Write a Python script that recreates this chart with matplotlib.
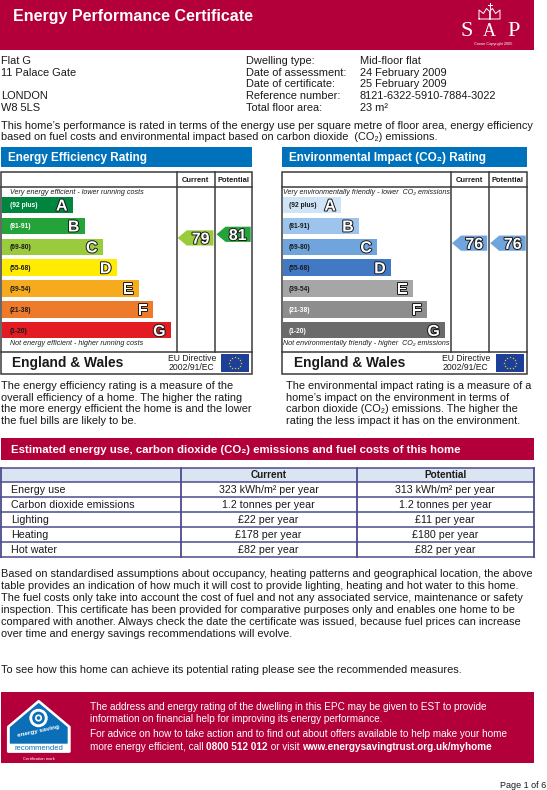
import numpy as np
import matplotlib.pyplot as plt
import matplotlib.patheffects as pe
from matplotlib.patches import Rectangle, Polygon, Circle

plt.rcParams['font.family'] = ['Liberation Sans', 'DejaVu Sans']

address_lines = ['Flat G', '11 Palace Gate', '', 'LONDON', 'W8 5LS']
detail_labels = ['Dwelling type:', 'Date of assessment:', 'Date of certificate:',
                 'Reference number:', 'Total floor area:']
detail_values = ['Mid-floor flat', '24 February 2009', '25 February 2009',
                 '8121-6322-5910-7884-3022', '23 m²']

band_letters = ['A', 'B', 'C', 'D', 'E', 'F', 'G']
band_labels = ['(92 plus)', '(81-91)', '(69-80)', '(55-68)', '(39-54)', '(21-38)', '(1-20)']
band_low = [92, 81, 69, 55, 39, 21, 1]
band_high = [100, 91, 80, 68, 54, 38, 20]

ee_current = 79
ee_potential = 81
ei_current = 76
ei_potential = 76

table_items = ['Energy use', 'Carbon dioxide emissions', 'Lighting', 'Heating', 'Hot water']
table_current = ['323 kWh/m² per year', '1.2 tonnes per year', '£22 per year',
                 '£178 per year', '£82 per year']
table_potential = ['313 kWh/m² per year', '1.2 tonnes per year', '£11 per year',
                   '£180 per year', '£82 per year']

# ---- styles ----
RED = '#b4003a'
BLUE = '#0072bb'
INK = '#1a1a1a'
ee_colors = ['#00853f', '#23a33a', '#9acb3c', '#ffec00', '#f6ab1f', '#ee7a2b', '#e31b23']
ee_label_colors = ['white', 'white', INK, INK, INK, INK, INK]
ei_colors = ['#cfe4f6', '#9cc4ec', '#6fa5dc', '#4279c4', '#a6a6a6', '#8d8d8d', '#6b6b6b']
ei_label_colors = [INK, INK, INK, INK, INK, 'white', 'white']
ee_bar_len = [71, 83, 101, 115, 137, 151, 169]
ei_bar_len = [58, 76, 94, 108, 130, 144, 162]

BODY = 7.9
TABLE = 7.7

fig = plt.figure(figsize=(5.47, 7.90), dpi=100)
ax = fig.add_axes([0, 0, 1, 1])
ax.set_autoscale_on(False)
ax.set_xlim(0, 547)
ax.set_ylim(790, 0)
ax.axis('off')
renderer = fig.canvas.get_renderer()


def ctext(x, yc, s, size, **kw):
    # place text so that capitals are centred on yc
    cap = 0.716 * size / 0.72
    return ax.text(x, yc + cap / 2, s, fontsize=size, va='baseline', **kw)


def run_text(x, y, parts, size, color):
    for s, weight in parts:
        t = ax.text(x, y, s, fontsize=size, fontweight=weight, color=color, va='baseline')
        x += t.get_window_extent(renderer).width


# ---- header ----
ax.add_patch(Rectangle((0, 0), 534, 50, color=RED, lw=0))
ax.text(13, 20.7, 'Energy Performance Certificate', fontsize=11.5, fontweight='bold',
        color='white', va='baseline')
# SAP mark
ax.text(467, 36.5, 'S', family='Liberation Serif', fontsize=16, color='white', ha='center', va='baseline')
ax.text(489, 36.5, 'A', family='Liberation Serif', fontsize=13, color='white', ha='center', va='baseline')
ax.text(514, 36.5, 'P', family='Liberation Serif', fontsize=16, color='white', ha='center', va='baseline')
ax.plot([479, 479, 483.5, 486.5, 489.5, 492.5, 495.5, 500, 500, 479],
        [19, 10, 13.5, 8.5, 11.5, 8.5, 13.5, 10, 19, 19], color='white', lw=0.7)
ax.plot([489.5, 489.5], [3, 9], color='white', lw=0.7)
ax.plot([487.5, 491.5], [5, 5], color='white', lw=0.7)
ax.plot([489.5, 489.5], [12, 19], color='white', lw=1.2)
ax.text(493, 45, 'Crown Copyright 2005', fontsize=2.8, color='white', ha='center', va='baseline')

# ---- address / details ----
for i, (a, l, v) in enumerate(zip(address_lines, detail_labels, detail_values)):
    y = 64 + i * 11.67
    ax.text(1, y, a, fontsize=BODY, color=INK, va='baseline')
    ax.text(246, y, l, fontsize=BODY, color=INK, va='baseline')
    ax.text(360, y, v, fontsize=BODY, color=INK, va='baseline')

intro = ['This home’s performance is rated in terms of the energy use per square metre of floor area, energy efficiency',
         'based on fuel costs and environmental impact based on carbon dioxide  (CO₂) emissions.']
for i, line in enumerate(intro):
    ax.text(1, 129.3 + i * 11, line, fontsize=BODY, color=INK, va='baseline')

# ---- rating charts ----
TOP, BOX_TOP, HEAD_BOT, FOOT_TOP, BOX_BOT = 146.7, 171.7, 187.3, 351.7, 374.0
BAR_TOP, PITCH, BAR_H = 196.7, 20.9, 16.3
bar_centers = BAR_TOP + BAR_H / 2 + PITCH * np.arange(len(band_letters))


def band_index(value):
    for i, (lo, hi) in enumerate(zip(band_low, band_high)):
        if lo <= value <= hi:
            return i
    return len(band_low) - 1


def rating_y(value):
    i = band_index(value)
    frac = (value - band_low[i] + 1) / (band_high[i] - band_low[i] + 1)
    return bar_centers[i] - (frac - 0.5) * PITCH


def arrow(xl, xr, value, colors):
    yc = rating_y(value)
    h = 7.6
    ax.add_patch(Polygon([(xl, yc), (xl + 9, yc - h), (xr, yc - h), (xr, yc + h), (xl + 9, yc + h)],
                         closed=True, color=colors[band_index(value)], lw=0))
    ctext(xr - 4, yc, str(value), 11.5, ha='right', color='white', fontweight='bold',
          path_effects=[pe.withStroke(linewidth=1.4, foreground=INK)])


def eu_flag(x, y, w, h):
    ax.add_patch(Rectangle((x, y), w, h, color='#1d3f9a', lw=0))
    ang = np.linspace(0, 2 * np.pi, 12, endpoint=False)
    ax.scatter(x + w / 2 + 5.6 * np.cos(ang), y + h / 2 + 5.6 * np.sin(ang),
               marker='*', s=2.5, color='#ffe000', lw=0, zorder=3)


def rating_chart(x0, x1, c1, c2, title, bar_len, colors, label_colors, captions,
                 current, potential, cap_x, label_x):
    ax.add_patch(Rectangle((x0, TOP), x1 - x0, 20.3, color=BLUE, lw=0))
    ax.text(x0 + 7, 161, title, fontsize=8.5, fontweight='bold', color='white', va='baseline')
    ax.add_patch(Rectangle((x0, BOX_TOP), x1 - x0, BOX_BOT - BOX_TOP, fill=False,
                           ec='#3a3a3a', lw=1.1))
    ax.plot([x0, x1], [HEAD_BOT, HEAD_BOT], color='#3a3a3a', lw=1.1)
    ax.plot([x0, x1], [FOOT_TOP, FOOT_TOP], color='#3a3a3a', lw=1.1)
    for cx in (c1, c2):
        ax.plot([cx, cx], [BOX_TOP, FOOT_TOP], color='#3a3a3a', lw=1.1)
    ctext((c1 + c2) / 2, 179.5, 'Current', 5.4, ha='center', color=INK, fontweight='bold')
    ctext((c2 + x1) / 2, 179.5, 'Potential', 5.4, ha='center', color=INK, fontweight='bold')

    ax.barh(bar_centers, bar_len, left=x0 + 0.5, height=BAR_H, color=colors, lw=0)
    for yc, ln, letter, lab, lc in zip(bar_centers, bar_len, band_letters, band_labels, label_colors):
        ctext(label_x, yc, lab, 4.8, color=lc, fontweight='bold')
        ctext(x0 + ln - 4.5, yc, letter, 11.5, ha='right', color='white', fontweight='bold',
              path_effects=[pe.withStroke(linewidth=1.4, foreground=INK)])
    ctext(cap_x, 191.5, captions[0], 5.1, color=INK, style='italic')
    ctext(cap_x, 342.5, captions[1], 5.1, color=INK, style='italic')

    arrow(c1 + 1, c2 - 1.5, current, colors)
    arrow(c2 + 1.5, x1 - 1, potential, colors)

    ax.text(x0 + 11.5, 366.5, 'England & Wales', fontsize=9.9, fontweight='bold', color=INK, va='baseline')
    ctext(c1 - 8.5, 357.8, 'EU Directive', 6.2, color=INK)
    ctext(c1 - 8.5, 367.3, '2002/91/EC', 6.2, color=INK)
    eu_flag(x1 - 30.7, 354, 28, 17.7)


rating_chart(1, 251.7, 176.7, 215, 'Energy Efficiency Rating', ee_bar_len, ee_colors,
             ee_label_colors,
             ['Very energy efficient - lower running costs',
              'Not energy efficient - higher running costs'],
             ee_current, ee_potential, cap_x=10, label_x=10)
rating_chart(282.3, 526.7, 451, 488.7, 'Environmental Impact (CO₂) Rating', ei_bar_len, ei_colors,
             ei_label_colors,
             ['Very environmentally friendly - lower  CO₂ emissions',
              'Not environmentally friendly - higher  CO₂ emissions'],
             ei_current, ei_potential, cap_x=283.3, label_x=289)

left_desc = ['The energy efficiency rating is a measure of the',
             'overall efficiency of a home. The higher the rating',
             'the more energy efficient the home is and the lower',
             'the fuel bills are likely to be.']
right_desc = ['The environmental impact rating is a measure of a',
              'home’s impact on the environment in terms of',
              'carbon dioxide (CO₂) emissions. The higher the',
              'rating the less impact it has on the environment.']
for i, (l, r) in enumerate(zip(left_desc, right_desc)):
    y = 389.3 + i * 11.6
    ax.text(1, y, l, fontsize=BODY, color=INK, va='baseline')
    ax.text(286, y, r, fontsize=BODY, color=INK, va='baseline')

# ---- estimated costs table ----
ax.add_patch(Rectangle((1, 437.7), 533, 22.3, color=RED, lw=0))
ax.text(11, 453.3, 'Estimated energy use, carbon dioxide (CO₂) emissions and fuel costs of this home',
        fontsize=8.2, fontweight='bold', color='white', va='baseline')

LINE = '#4b4b8e'
col_x = [1, 180.7, 356.6, 534]
row_y = np.concatenate([[467.5], 481.7 + 15.1 * np.arange(len(table_items) + 1)])
ax.add_patch(Rectangle((col_x[0], row_y[0]), col_x[-1] - col_x[0], row_y[1] - row_y[0],
                       color='#dbe5f1', lw=0))
for y in row_y:
    ax.plot([col_x[0], col_x[-1]], [y, y], color=LINE, lw=1.1)
for x in col_x:
    ax.plot([x, x], [row_y[0], row_y[-1]], color=LINE, lw=1.3)
ctext((col_x[1] + col_x[2]) / 2, (row_y[0] + row_y[1]) / 2, 'Current', 7.2, ha='center',
      color=INK, fontweight='bold')
ctext((col_x[2] + col_x[3]) / 2, (row_y[0] + row_y[1]) / 2, 'Potential', 7.2, ha='center',
      color=INK, fontweight='bold')
for i, (item, cur, pot) in enumerate(zip(table_items, table_current, table_potential)):
    yc = (row_y[i + 1] + row_y[i + 2]) / 2
    ctext(11, yc, item, TABLE, color=INK)
    ctext((col_x[1] + col_x[2]) / 2, yc, cur, TABLE, ha='center', color=INK)
    ctext((col_x[2] + col_x[3]) / 2, yc, pot, TABLE, ha='center', color=INK)

para = ['Based on standardised assumptions about occupancy, heating patterns and geographical location, the above',
        'table provides an indication of how much it will cost to provide lighting, heating and hot water to this home.',
        'The fuel costs only take into account the cost of fuel and not any associated service, maintenance or safety',
        'inspection. This certificate has been provided for comparative purposes only and enables one home to be',
        'compared with another. Always check the date the certificate was issued, because fuel prices can increase',
        'over time and energy savings recommendations will evolve.']
for i, line in enumerate(para):
    ax.text(1, 576.7 + i * 12, line, fontsize=BODY, color=INK, va='baseline')
ax.text(1, 673.3, 'To see how this home can achieve its potential rating please see the recommended measures.',
        fontsize=BODY, color=INK, va='baseline')

# ---- energy saving trust footer ----
ax.add_patch(Rectangle((1, 691.7), 533, 71.6, color=RED, lw=0))
ax.add_patch(Polygon([(8.3, 727), (38.7, 701.3), (69.3, 727), (69.3, 751.5), (8.3, 751.5)],
                     closed=True, fc='white', ec='white', lw=2, joinstyle='round'))
ax.add_patch(Polygon([(10.5, 727.5), (38.7, 703.8), (67, 727.5), (67, 743), (10.5, 743)],
                     closed=True, fc='#0a6fb7', ec='#0a6fb7', lw=1, joinstyle='round'))
ax.add_patch(Circle((38.5, 718), 9.2, fc='white', ec='none'))
ax.add_patch(Circle((38.5, 718), 6.3, fc='#0a6fb7', ec='none'))
ax.add_patch(Circle((38.5, 718), 3.6, fc='white', ec='none'))
ax.add_patch(Circle((38.5, 718), 1.8, fc='#0a6fb7', ec='none'))
ctext(38.5, 734.5, 'energy saving', 4.6, ha='center', color='white', fontweight='bold', rotation=12)
ctext(38.7, 747.3, 'recommended', 5.5, ha='center', color='#0a6fb7')
ctext(38.7, 759, 'Certification mark', 3, ha='center', color='white')

FOOT = 7.2
run_text(90, 710.5, [('The address and energy rating of the dwelling in this EPC may be given to EST to provide', 'normal')],
         FOOT, 'white')
run_text(90, 722.3, [('information on financial help for improving its energy performance.', 'normal')], FOOT, 'white')
run_text(90, 737, [('For advice on how to take action and to find out about offers available to help make your home', 'normal')],
         FOOT, 'white')
run_text(90, 749.7, [('more energy efficient, call ', 'normal'), ('0800 512 012', 'bold'),
                     (' or visit ', 'normal'), ('www.energysavingtrust.org.uk/myhome', 'bold')],
         FOOT, 'white')

ax.text(546.5, 788, 'Page 1 of 6', fontsize=6.5, color=INK, ha='right', va='baseline')

fig.savefig('out.png', dpi=100)
